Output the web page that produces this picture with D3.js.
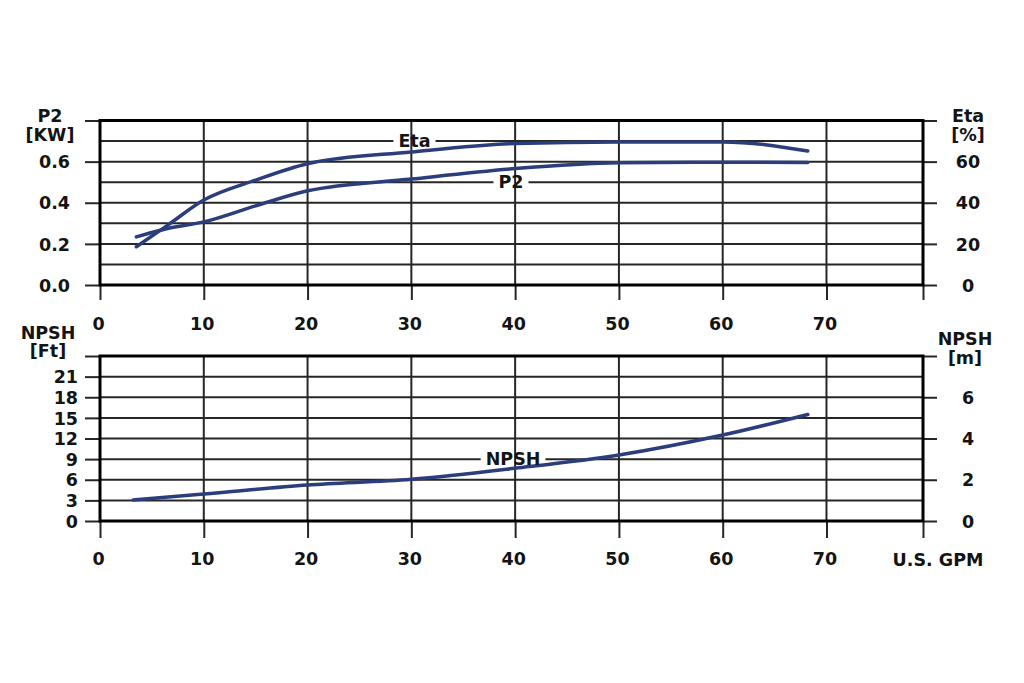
<!DOCTYPE html>
<html>
<head>
<meta charset="utf-8">
<script src="https://cdn.jsdelivr.net/npm/d3@7"></script>
<style>
  html, body { margin: 0; padding: 0; background: #fff; }
  svg { display: block; }
  text { font-family: "DejaVu Sans", "Liberation Sans", Arial, sans-serif; font-weight: bold; fill: #141414; }
</style>
</head>
<body>
<svg id="chart" width="1024" height="683"></svg>
<script>
// ---------- DATA ----------
const gpmTicks = [0, 10, 20, 30, 40, 50, 60, 70];
const p2Ticks = [0, 0.2, 0.4, 0.6];
const etaTicks = [0, 20, 40, 60];
const ftTicks = [0, 3, 6, 9, 12, 15, 18, 21];
const mTicks = [0, 2, 4, 6];

const etaFlow = [3.5, 6.5, 10, 15, 20, 30, 40, 50, 60, 68.2];
const etaValues = [18.6, 29, 41.3, 51, 59, 64.7, 68.8, 69.6, 69.6, 65.2];

const p2Flow = [3.5, 6.5, 10, 15, 20, 30, 40, 50, 60, 68.2];
const p2Values = [0.234, 0.275, 0.307, 0.385, 0.458, 0.515, 0.566, 0.594, 0.597, 0.596];

const npshFlow = [3.2, 10, 20, 30, 40, 50, 60, 68.2];
const npshFtValues = [3.06, 3.93, 5.24, 6.07, 7.67, 9.6, 12.5, 15.5];

// curve labels: [text, flow, value on its own axis, axis]
const curveLabels = [
  ["Eta", 30.3, 70, "eta"],
  ["P2", 39.6, 0.5, "p2"],
  ["NPSH", 39.8, 9, "ft"]
];

// ---------- LAYOUT ----------
const FS = "17.5px";
const svg = d3.select("#chart");
const L = 100, R = 923;
const x = d3.scaleLinear().domain([0, 79.3]).range([L, R]);

const topY0 = 285, topY1 = 120.5;
const yP2 = d3.scaleLinear().domain([0, 0.8]).range([topY0, topY1]);
const yEta = d3.scaleLinear().domain([0, 80]).range([topY0, topY1]);

const botY0 = 521, botY1 = 356;
const yFt = d3.scaleLinear().domain([0, 24]).range([botY0, botY1]);
const yM = d3.scaleLinear().domain([0, 8]).range([botY0, botY1]);

const curveColor = "#2b3d7c";
const gridColor = "#262626";

function styleAxis(g) {
  g.select(".domain").remove();
  g.selectAll(".tick line").attr("stroke", gridColor).attr("stroke-width", 2);
  g.selectAll(".tick text").style("font-size", FS).attr("fill", "#141414");
}

// ---------- TOP PANEL ----------
const gTop = svg.append("g");
gTop.selectAll("line.h").data(d3.range(1, 8).map(i => i / 10)).enter().append("line")
  .attr("x1", L).attr("x2", R)
  .attr("y1", d => yP2(d)).attr("y2", d => yP2(d))
  .attr("stroke", gridColor).attr("stroke-width", 2);
const gapTop = svg.append("g");
const gTopV = svg.append("g");
gTopV.selectAll("line.v").data(gpmTicks.slice(1)).enter().append("line")
  .attr("x1", d => x(d)).attr("x2", d => x(d))
  .attr("y1", topY1).attr("y2", topY0)
  .attr("stroke", gridColor).attr("stroke-width", 2);

const axL1 = svg.append("g").attr("transform", `translate(${L},0)`)
  .call(d3.axisLeft(yP2).tickValues(p2Ticks.concat([0.8])).tickSize(15).tickPadding(15)
    .tickFormat(d => d === 0.8 ? "" : d3.format(".1f")(d)));
styleAxis(axL1);
axL1.selectAll(".tick text").attr("dy", "0.35em");

const axR1 = svg.append("g").attr("transform", `translate(${R},0)`)
  .call(d3.axisRight(yEta).tickValues(etaTicks.concat([80])).tickSize(14)
    .tickFormat(d => d === 80 ? "" : d));
styleAxis(axR1);
axR1.selectAll(".tick text").attr("x", 45).attr("text-anchor", "middle").attr("dy", "0.35em");

const axB1 = svg.append("g").attr("transform", `translate(0,${topY0})`)
  .call(d3.axisBottom(x).tickValues(gpmTicks.concat([79.3])).tickSize(15).tickPadding(18)
    .tickFormat(d => d > 75 ? "" : d));
styleAxis(axB1);
axB1.selectAll(".tick text").attr("dx", "-2");

svg.append("rect").attr("x", L).attr("y", topY1).attr("width", R - L).attr("height", topY0 - topY1)
  .attr("fill", "none").attr("stroke", "#000").attr("stroke-width", 3);

// ---------- BOTTOM PANEL ----------
const gBot = svg.append("g");
gBot.selectAll("line.h").data(ftTicks.slice(1)).enter().append("line")
  .attr("x1", L).attr("x2", R)
  .attr("y1", d => yFt(d)).attr("y2", d => yFt(d))
  .attr("stroke", gridColor).attr("stroke-width", 2);
const gapBot = svg.append("g");
const gBotV = svg.append("g");
gBotV.selectAll("line.v").data(gpmTicks.slice(1)).enter().append("line")
  .attr("x1", d => x(d)).attr("x2", d => x(d))
  .attr("y1", botY1).attr("y2", botY0)
  .attr("stroke", gridColor).attr("stroke-width", 2);

const axL2 = svg.append("g").attr("transform", `translate(${L},0)`)
  .call(d3.axisLeft(yFt).tickValues(ftTicks.concat([24])).tickSize(15).tickPadding(7)
    .tickFormat(d => d === 24 ? "" : d));
styleAxis(axL2);
axL2.selectAll(".tick text").attr("dy", "0.35em");

const axR2 = svg.append("g").attr("transform", `translate(${R},0)`)
  .call(d3.axisRight(yM).tickValues(mTicks.concat([8])).tickSize(14)
    .tickFormat(d => d === 8 ? "" : d));
styleAxis(axR2);
axR2.selectAll(".tick text").attr("x", 45).attr("text-anchor", "middle").attr("dy", "0.35em");

const axB2 = svg.append("g").attr("transform", `translate(0,${botY0})`)
  .call(d3.axisBottom(x).tickValues(gpmTicks.concat([79.3])).tickSize(17).tickPadding(15)
    .tickFormat(d => d > 75 ? "" : d));
styleAxis(axB2);
axB2.selectAll(".tick text").attr("dx", "-2");

svg.append("rect").attr("x", L).attr("y", botY1).attr("width", R - L).attr("height", botY0 - botY1)
  .attr("fill", "none").attr("stroke", "#000").attr("stroke-width", 3);

// ---------- AXIS TITLES ----------
function title(lines, cx, baselines) {
  lines.forEach((t, i) => {
    svg.append("text").attr("x", cx).attr("y", baselines[i])
      .attr("text-anchor", "middle").style("font-size", FS).text(t);
  });
}
title(["P2", "[KW]"], 50, [122, 141]);
title(["Eta", "[%]"], 968, [122, 141]);
title(["NPSH", "[Ft]"], 48, [339, 357]);
title(["NPSH", "[m]"], 965, [345, 364]);
svg.append("text").attr("x", 938).attr("y", 566).attr("text-anchor", "middle")
  .style("font-size", FS).text("U.S. GPM");

// ---------- CURVES ----------
const lineGen = (ys) => d3.line().x(d => x(d[0])).y(d => ys(d[1])).curve(d3.curveMonotoneX);

svg.append("path").datum(d3.zip(etaFlow, etaValues))
  .attr("d", lineGen(yEta)).attr("fill", "none").attr("stroke", curveColor)
  .attr("stroke-width", 3.5).attr("stroke-linecap", "round");
svg.append("path").datum(d3.zip(p2Flow, p2Values))
  .attr("d", lineGen(yP2)).attr("fill", "none").attr("stroke", curveColor)
  .attr("stroke-width", 3.5).attr("stroke-linecap", "round");
svg.append("path").datum(d3.zip(npshFlow, npshFtValues))
  .attr("d", lineGen(yFt)).attr("fill", "none").attr("stroke", curveColor)
  .attr("stroke-width", 3.5).attr("stroke-linecap", "round");

// ---------- CURVE LABELS ----------
const scaleFor = { eta: yEta, p2: yP2, ft: yFt };
curveLabels.forEach(([t, fx, v, k]) => {
  const ys = scaleFor[k];
  const cx = x(fx), cy = ys(v);
  const txt = svg.append("text").attr("x", cx).attr("y", cy).attr("dy", "0.35em")
    .attr("text-anchor", "middle").style("font-size", FS).text(t);
  const bb = txt.node().getBBox();
  const gapG = k === "ft" ? gapBot : gapTop;
  gapG.append("rect").attr("x", bb.x - 5).attr("y", cy - 2.5)
    .attr("width", bb.width + 10).attr("height", 5).attr("fill", "#fff");
});
</script>
</body>
</html>
